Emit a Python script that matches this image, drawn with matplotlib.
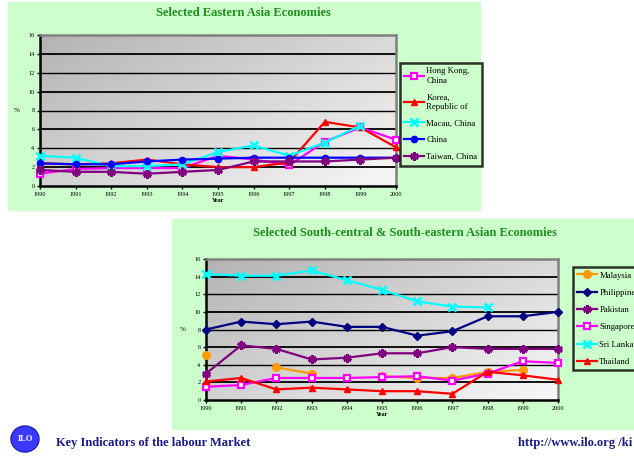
import matplotlib.pyplot as plt
import numpy as np
from matplotlib.patches import Ellipse, Rectangle

nan = np.nan

years = [1990, 1991, 1992, 1993, 1994, 1995, 1996, 1997, 1998, 1999, 2000]

# Eastern Asia
hong_kong = [1.3, 1.8, 1.9, 1.9, 1.9, 3.2, 2.8, 2.2, 4.7, 6.2, 4.9]
korea = [2.4, 2.3, 2.4, 2.8, 2.3, 2.0, 2.0, 2.5, 6.8, 6.2, 4.1]
macau = [3.2, 3.0, 2.1, 2.1, 2.3, 3.6, 4.3, 3.2, 4.6, 6.4, nan]
china = [2.4, 2.3, 2.3, 2.6, 2.8, 2.9, 3.0, 3.0, 3.0, 3.0, 3.0]
taiwan = [1.7, 1.5, 1.5, 1.3, 1.5, 1.7, 2.6, 2.6, 2.6, 2.8, 3.0]

# South-central & South-eastern Asia
malaysia = [5.1, nan, 3.7, 3.0, nan, 2.7, 2.5, 2.5, 3.2, 3.4, nan]
philippines = [8.0, 8.9, 8.6, 8.9, 8.3, 8.3, 7.3, 7.8, 9.5, 9.5, 10.0]
pakistan = [3.0, 6.2, 5.8, 4.6, 4.8, 5.3, 5.3, 6.0, 5.8, 5.8, 5.8]
singapore = [1.5, 1.7, 2.5, 2.5, 2.5, 2.6, 2.7, 2.2, 3.0, 4.4, 4.2]
sri_lanka = [14.3, 14.1, 14.1, 14.7, 13.6, 12.5, 11.2, 10.6, 10.5, nan, nan]
thailand = [2.1, 2.5, 1.2, 1.4, 1.2, 1.0, 1.0, 0.7, 3.2, 2.8, 2.3]

W, H = 634, 459
PANEL = "#ccffcc"
TITLE_GREEN = "#1f8f1f"
NAVY = "#1a1a8c"

STYLES = {
    "Hong Kong,\nChina": dict(color="#ff00ff", marker="s", mfc="white", mec="#ff00ff", ms=4.5, mew=1.6),
    "Korea,\nRepublic of": dict(color="#ff0000", marker="^", ms=5),
    "Macau, China": dict(color="#00ffff", marker="x", ms=5.5, mew=2),
    "China": dict(color="#0000ff", marker="o", ms=4.5),
    "Taiwan, China": dict(color="#800080", marker=(6, 2, 0), ms=6, mew=2),
    "Malaysia": dict(color="#ff9900", marker="o", ms=5.5),
    "Philippines": dict(color="#000080", marker="D", ms=4),
    "Pakistan": dict(color="#800080", marker=(6, 2, 0), ms=6, mew=2),
    "Singapore": dict(color="#ff00ff", marker="s", mfc="white", mec="#ff00ff", ms=4.5, mew=1.6),
    "Sri Lanka": dict(color="#00ffff", marker="x", ms=5.5, mew=2),
    "Thailand": dict(color="#ff0000", marker="^", ms=5),
}


def px_rect(x0, y0, x1, y1):
    return [x0 / W, 1 - y1 / H, (x1 - x0) / W, (y1 - y0) / H]


def style_axis(ax):
    grad = np.linspace(0, 1, 200)
    xx, yy = np.meshgrid(grad, grad)
    shade = 0.70 + 0.27 * (0.55 * xx + 0.45 * yy)
    ax.imshow(shade, cmap="gray", vmin=0, vmax=1, extent=[0, 1, 0, 1],
              transform=ax.transAxes, aspect="auto", zorder=0, origin="upper")
    ax.set_xlim(1990, 2000)
    ax.set_ylim(0, 16)
    ax.set_yticks(range(0, 17, 2))
    ax.set_xticks(years)
    ax.set_xticklabels([str(y) for y in years])
    for y in range(2, 16, 2):
        ax.axhline(y, color="black", linewidth=1.3 if y % 4 else 1.0, zorder=1)
    ax.tick_params(labelsize=4.5, length=2.5, width=1, pad=1.5, direction="out")
    for side in ["left", "bottom"]:
        ax.spines[side].set_color("black")
        ax.spines[side].set_linewidth(1.8)
    for side in ["top", "right"]:
        ax.spines[side].set_color("#808080")
        ax.spines[side].set_linewidth(1.8)
    ax.set_xlabel("Year", fontsize=4.5, fontweight="bold", labelpad=1)
    ax.set_ylabel("%", fontsize=5, rotation=0, labelpad=8, va="center")


def draw_series(ax, series):
    for label, values in series:
        ax.plot(years, values, label=label, linewidth=1.6, zorder=3, clip_on=False,
                **STYLES[label])


def add_legend(ax, fig, x, y, spacing):
    leg = ax.legend(loc="upper left", bbox_to_anchor=(x / W, 1 - y / H),
                    bbox_transform=fig.transFigure, fontsize=6.3, frameon=True,
                    fancybox=False, handlelength=2.2, handletextpad=0.3,
                    labelspacing=spacing, borderpad=0.5, borderaxespad=0)
    leg.get_frame().set_edgecolor("black")
    leg.get_frame().set_linewidth(1.8)
    leg.get_frame().set_facecolor(PANEL)
    return leg


def main() -> None:
    plt.rcParams.update({"font.family": ["Liberation Serif", "DejaVu Serif"]})
    fig = plt.figure(figsize=(W / 100, H / 100), dpi=100)

    fig.patches.append(Rectangle((8 / W, 1 - 210 / H), 472 / W, 208 / H,
                                 transform=fig.transFigure, color=PANEL, zorder=-5))
    fig.patches.append(Rectangle((172 / W, 1 - 429 / H), 462 / W, 210 / H,
                                 transform=fig.transFigure, color=PANEL, zorder=-5))

    # top chart
    ax1 = fig.add_axes(px_rect(40, 35, 396, 186))
    style_axis(ax1)
    draw_series(ax1, [
        ("Hong Kong,\nChina", hong_kong),
        ("Korea,\nRepublic of", korea),
        ("Macau, China", macau),
        ("China", china),
        ("Taiwan, China", taiwan),
    ])
    fig.text(243 / W, 1 - 13 / H, "Selected Eastern Asia Economies", ha="center",
             va="center", fontsize=9, fontweight="bold", color=TITLE_GREEN)
    add_legend(ax1, fig, 400, 63, 1.0)

    # bottom chart
    ax2 = fig.add_axes(px_rect(206, 259, 558, 400))
    style_axis(ax2)
    draw_series(ax2, [
        ("Malaysia", malaysia),
        ("Philippines", philippines),
        ("Pakistan", pakistan),
        ("Singapore", singapore),
        ("Sri Lanka", sri_lanka),
        ("Thailand", thailand),
    ])
    fig.text(405 / W, 1 - 233 / H,
             "Selected South-central & South-eastern Asian Economies", ha="center",
             va="center", fontsize=9, fontweight="bold", color=TITLE_GREEN)
    add_legend(ax2, fig, 573, 267, 1.05)

    # footer
    fig.patches.append(Ellipse((25 / W, 1 - 439 / H), 28 / W, 26 / H,
                               transform=fig.transFigure, facecolor="#3a3aff",
                               edgecolor="#2020c0", zorder=2))
    fig.text(25 / W, 1 - 439 / H, "ILO", ha="center", va="center", fontsize=6,
             fontweight="bold", color="white")
    fig.text(56 / W, 1 - 443 / H, "Key Indicators of the labour Market", ha="left",
             va="center", fontsize=9, fontweight="bold", color=NAVY)
    fig.text(632 / W, 1 - 443 / H, "http://www.ilo.org /ki", ha="right",
             va="center", fontsize=9, fontweight="bold", color=NAVY)

    fig.savefig("out.png", dpi=100)
    plt.close(fig)


if __name__ == "__main__":
    main()
